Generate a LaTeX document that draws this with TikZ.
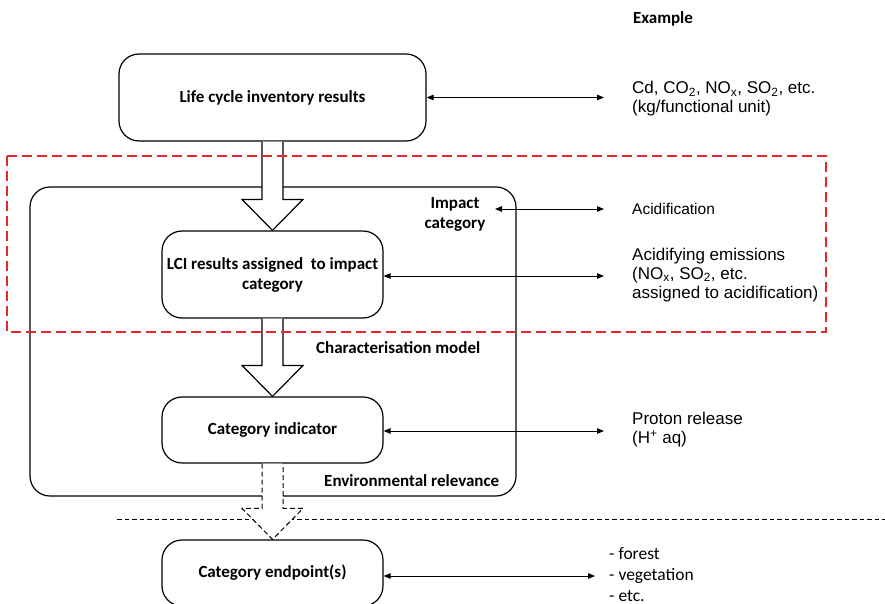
\documentclass[tikz,border=0pt]{standalone}
\usepackage{fontspec}
\setmainfont{Carlito}
\newfontfamily\helv{Liberation Sans}
\usetikzlibrary{arrows.meta,calc}

% hollow block arrow from the bottom of one box to the top of the next
\newcommand\blockarrow[3][]{%
  \draw[blockarrow,#1]
    ($(#2.south)+(-10.5,0)$) --
    ($(#3.north)+(-10.5,-31)$) -- ($(#3.north)+(-30.5,-31)$) --
    (#3.north) --
    ($(#3.north)+(30.5,-31)$) -- ($(#3.north)+(10.5,-31)$) --
    ($(#2.south)+(10.5,0)$);}

\begin{document}
\begin{tikzpicture}[x=1pt,y=-1pt,
  stagebox/.style={draw,line width=1.2pt,rounded corners=20pt,
    font=\bfseries\fontsize{17}{20}\selectfont,align=center,inner sep=2pt,
    minimum width=221pt},
  blockarrow/.style={draw,fill=white,line width=1.2pt,line join=miter},
  dbl/.style={line width=1pt,{Triangle[length=7pt,width=5.5pt]}-{Triangle[length=7pt,width=5.5pt]}},
  note/.style={font=\helv\fontsize{17}{19}\selectfont,align=left,anchor=west,inner sep=0pt},
  caption/.style={font=\bfseries\fontsize{17}{20}\selectfont,align=center,inner sep=0pt},
  redframe/.style={draw={rgb,255:red,230;green,40;blue,40},line width=1.2pt,dash pattern=on 10pt off 5pt},
  endline/.style={draw,line width=1pt,dash pattern=on 4.5pt off 3pt}]

\useasboundingbox (0,0) rectangle (885,604);
\clip (0,0) rectangle (885,604);

% container of the impact assessment steps
\node[draw,line width=1.2pt,rounded corners=20pt,minimum width=486pt,minimum height=309pt,inner sep=0pt]
  (scope) at (273,341.5) {};

% stages
\node[stagebox,minimum width=307pt,minimum height=87pt] (lci) at (272.5,97.5) {Life cycle inventory results};
\node[stagebox,minimum height=87pt] (assigned) at (272.5,274.5) {LCI results assigned\ \ to impact\\category};
\node[stagebox,minimum height=66pt] (indicator) at (272.5,430) {Category indicator};
\node[stagebox,minimum height=66pt] (endpoint) at (272.5,573) {Category endpoint(s)};

% boundary between indicator and endpoint level
\coordinate (lineL) at (117,519);
\coordinate (lineR) at (885,519);
\draw[endline] (lineL) -- (lineR);

% flow between stages
\blockarrow{lci}{assigned}
\blockarrow{assigned}{indicator}
\blockarrow[dash pattern=on 5pt off 3pt,line width=1pt]{indicator}{endpoint}

% mandatory part of the assessment
\draw[redframe] (7,156) rectangle (826,332);

% example column
\coordinate (ex) at (604,0);
\coordinate (impL) at (495,209);
\coordinate (impR) at (604,209);
\draw[dbl] (lci.east) -- (lci.east -| ex);
\draw[dbl] (impL) -- (impR);
\draw[dbl] ($(assigned.east)+(0,1.5)$) -- ($(assigned.east -| ex)+(0,1.5)$);
\draw[dbl] ($(indicator.east)+(0,1)$) -- ($(indicator.east -| ex)+(0,1)$);
\coordinate (ex4) at (595,0);
\draw[dbl] ($(endpoint.east)+(0,3)$) -- ($(endpoint.east -| ex4)+(0,3)$);

\node[caption] (example) at (663,19) {Example};
\node[note] (n1) at (632,99) {Cd, CO\textsubscript{2}, NO\textsubscript{x}, SO\textsubscript{2}, etc.\\(kg/functional unit)};
\node[note,font=\helv\fontsize{15.5}{18}\selectfont] (n2) at (632,209) {Acidification};
\node[note] (n3) at (632,275) {Acidifying emissions\\(NO\textsubscript{x}, SO\textsubscript{2}, etc.\\assigned to acidification)};
\node[note] (n4) at (632,430) {Proton release\\(H\textsuperscript{+} aq)};
\node[note,font=\fontsize{17.5}{21}\selectfont] (n5) at (609,575) {- forest\\- vegetation\\- etc.};

% step labels
\node[caption] (impact) at (455,214) {Impact\\category};
\node[caption,anchor=west] (charmodel) at (316,348) {Characterisation model};
\node[caption,anchor=west] (envrel) at (324,481) {Environmental relevance};
\end{tikzpicture}
\end{document}
